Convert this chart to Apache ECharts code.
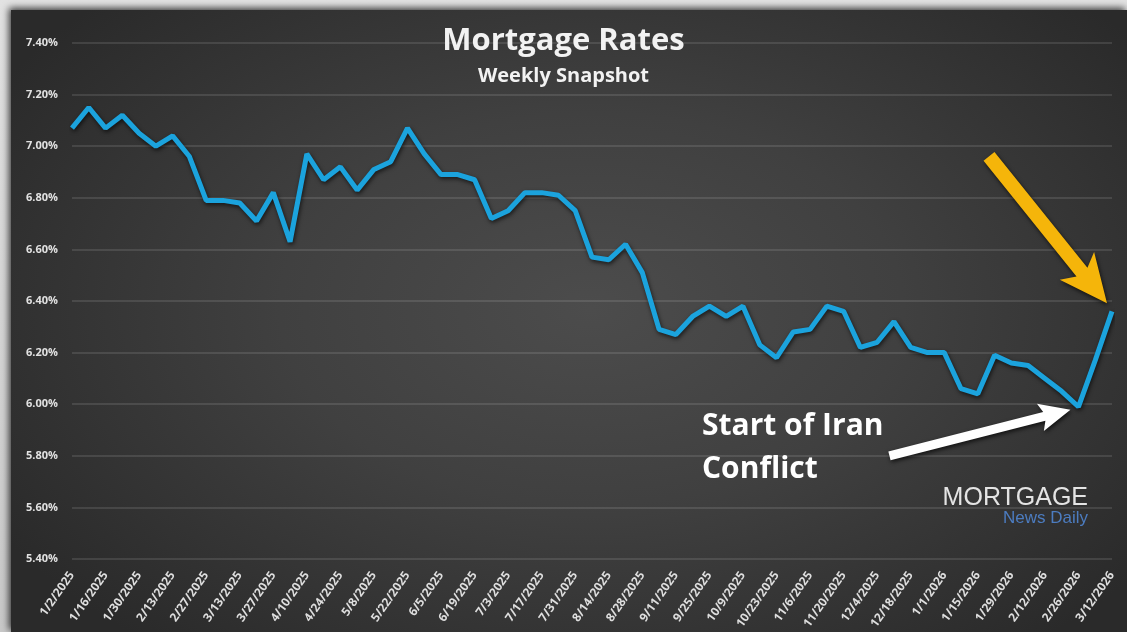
<!DOCTYPE html>
<html>
<head>
<meta charset="utf-8">
<script src="https://cdn.jsdelivr.net/npm/echarts@6/dist/echarts.min.js"></script>
<style>
html,body{margin:0;padding:0;width:1127px;height:632px;overflow:hidden;background:linear-gradient(#e2e2e2,#c8c8c8);}
#panel{position:absolute;left:11px;top:10px;width:1116px;height:622px;
  background:radial-gradient(ellipse 62% 70% at 52% 48%, #4c4c4c 0%, #404040 45%, #2a2a2a 100%);
  box-shadow:-2px -2px 7px rgba(0,0,0,0.75);}
#chart{position:absolute;left:0;top:0;width:1127px;height:632px;}
</style>
</head>
<body>
<div id="panel"></div>
<div id="chart"></div>
<script>
// ---- data ----
const dates = [
  "1/2/2025","1/9/2025","1/16/2025","1/23/2025","1/30/2025","2/6/2025","2/13/2025","2/20/2025","2/27/2025",
  "3/6/2025","3/13/2025","3/20/2025","3/27/2025","4/3/2025","4/10/2025","4/17/2025","4/24/2025",
  "5/1/2025","5/8/2025","5/15/2025","5/22/2025","5/29/2025","6/5/2025","6/12/2025","6/19/2025","6/26/2025",
  "7/3/2025","7/10/2025","7/17/2025","7/24/2025","7/31/2025","8/7/2025","8/14/2025","8/21/2025","8/28/2025",
  "9/4/2025","9/11/2025","9/18/2025","9/25/2025","10/2/2025","10/9/2025","10/16/2025","10/23/2025","10/30/2025",
  "11/6/2025","11/13/2025","11/20/2025","11/27/2025","12/4/2025","12/11/2025","12/18/2025","12/25/2025",
  "1/1/2026","1/8/2026","1/15/2026","1/22/2026","1/29/2026","2/5/2026","2/12/2026","2/19/2026","2/26/2026",
  "3/5/2026","3/12/2026"
];
const rates = [
  7.07,7.15,7.07,7.12,7.05,7.00,7.04,6.96,6.79,
  6.79,6.78,6.71,6.82,6.63,6.97,6.87,6.92,
  6.83,6.91,6.94,7.07,6.97,6.89,6.89,6.87,6.72,
  6.75,6.82,6.82,6.81,6.75,6.57,6.56,6.62,6.51,
  6.29,6.27,6.34,6.38,6.34,6.38,6.23,6.18,6.28,
  6.29,6.38,6.36,6.22,6.24,6.32,6.22,6.20,
  6.20,6.06,6.04,6.19,6.16,6.15,6.10,6.05,5.99,
  6.17,6.36
];
const yMin = 5.4, yMax = 7.4, yStep = 0.2;
const titleText = "Mortgage Rates";
const subtitleText = "Weekly Snapshot";
const noteLines = ["Start of Iran", "Conflict"];
const conflictIndex = 60;

const chart = echarts.init(document.getElementById('chart'), null, {renderer:'canvas'});
const sh = {shadowColor:'rgba(0,0,0,0.8)', shadowBlur:3, shadowOffsetX:1.5, shadowOffsetY:1.5};

chart.setOption({
  backgroundColor:'transparent',
  animation:false,
  grid:{left:72, right:15, top:43, bottom:73},
  xAxis:{
    type:'category', data:dates, boundaryGap:false,
    axisLine:{show:false}, axisTick:{show:false},
    axisLabel:{interval:1, rotate:55, margin:14, color:'#dedede', fontFamily:'Open Sans', fontWeight:'bold', fontSize:12},
    splitLine:{show:false}
  },
  yAxis:{
    type:'value', min:yMin, max:yMax, interval:yStep,
    axisLine:{show:false}, axisTick:{show:false},
    axisLabel:{margin:14, color:'#e2e2e2', fontFamily:'Open Sans', fontWeight:'bold', fontSize:11,
      formatter:v=>v.toFixed(2)+'%'},
    splitLine:{lineStyle:{color:'rgba(255,255,255,0.11)', width:2}}
  },
  series:[{
    type:'line', data:rates, symbol:'none',
    lineStyle:{color:'#1ba3dd', width:5, shadowColor:'rgba(0,0,0,0.65)', shadowBlur:4, shadowOffsetX:1, shadowOffsetY:2},
    z:3
  }]
});

function arrowPoints(T, P, sw, headLen, hw, notch){
  const dx=P[0]-T[0], dy=P[1]-T[1], L=Math.hypot(dx,dy);
  const u=[dx/L,dy/L], n=[-u[1],u[0]];
  const B=[P[0]-u[0]*headLen, P[1]-u[1]*headLen];
  const pt=(b,a,s)=>[b[0]+n[0]*s+u[0]*a, b[1]+n[1]*s+u[1]*a];
  return [pt(T,0,sw/2), pt(B,0,sw/2), pt(B,-notch,hw), P, pt(B,-notch,-hw), pt(B,0,-sw/2), pt(T,0,-sw/2)];
}

const pMin = chart.convertToPixel({seriesIndex:0}, [conflictIndex, rates[conflictIndex]]);
const last = rates.length-1;
const pLast = chart.convertToPixel({seriesIndex:0}, [last, rates[last]]);

const whiteTip = [pMin[0]-8, pMin[1]+3];
const whiteTail = [pMin[0]-189, pMin[1]+49];
const yellowTip = [pLast[0]-5, pLast[1]-8];
const yellowTail = [pLast[0]-123, pLast[1]-155];

chart.setOption({
  graphic:[
    {type:'text', left:'center', top:26, style:Object.assign({text:titleText, fill:'#f2f2f2', font:'bold 31px "Open Sans"'}, sh), z:10},
    {type:'text', left:'center', top:66, style:Object.assign({text:subtitleText, fill:'#f2f2f2', font:'bold 20px "Open Sans"'}, sh), z:10},
    {type:'text', x:702, y:411, style:Object.assign({text:noteLines[0], fill:'#ffffff', font:'bold 30px "Open Sans"'}, sh), z:10},
    {type:'text', x:702, y:454, style:Object.assign({text:noteLines[1], fill:'#ffffff', font:'bold 30px "Open Sans"'}, sh), z:10},
    {type:'polygon', shape:{points:arrowPoints(whiteTail, whiteTip, 9, 27, 14, 4)},
      style:{fill:'#ffffff', shadowColor:'rgba(0,0,0,0.7)', shadowBlur:4, shadowOffsetX:1, shadowOffsetY:2}, z:10},
    {type:'polygon', shape:{points:arrowPoints(yellowTail, yellowTip, 14, 40, 22, 8)},
      style:{fill:'#f5b50a', shadowColor:'rgba(0,0,0,0.7)', shadowBlur:4, shadowOffsetX:1, shadowOffsetY:2}, z:10},
    {type:'text', x:1088, y:486, style:{text:'MORTGAGE', fill:'#e4e4e4', font:'300 25px "Liberation Sans"', align:'right'}, z:10},
    {type:'text', x:1088, y:510, style:{text:'News Daily', fill:'#4c7cc0', font:'17px "Liberation Sans"', align:'right'}, z:10}
  ]
});
</script>
</body>
</html>
